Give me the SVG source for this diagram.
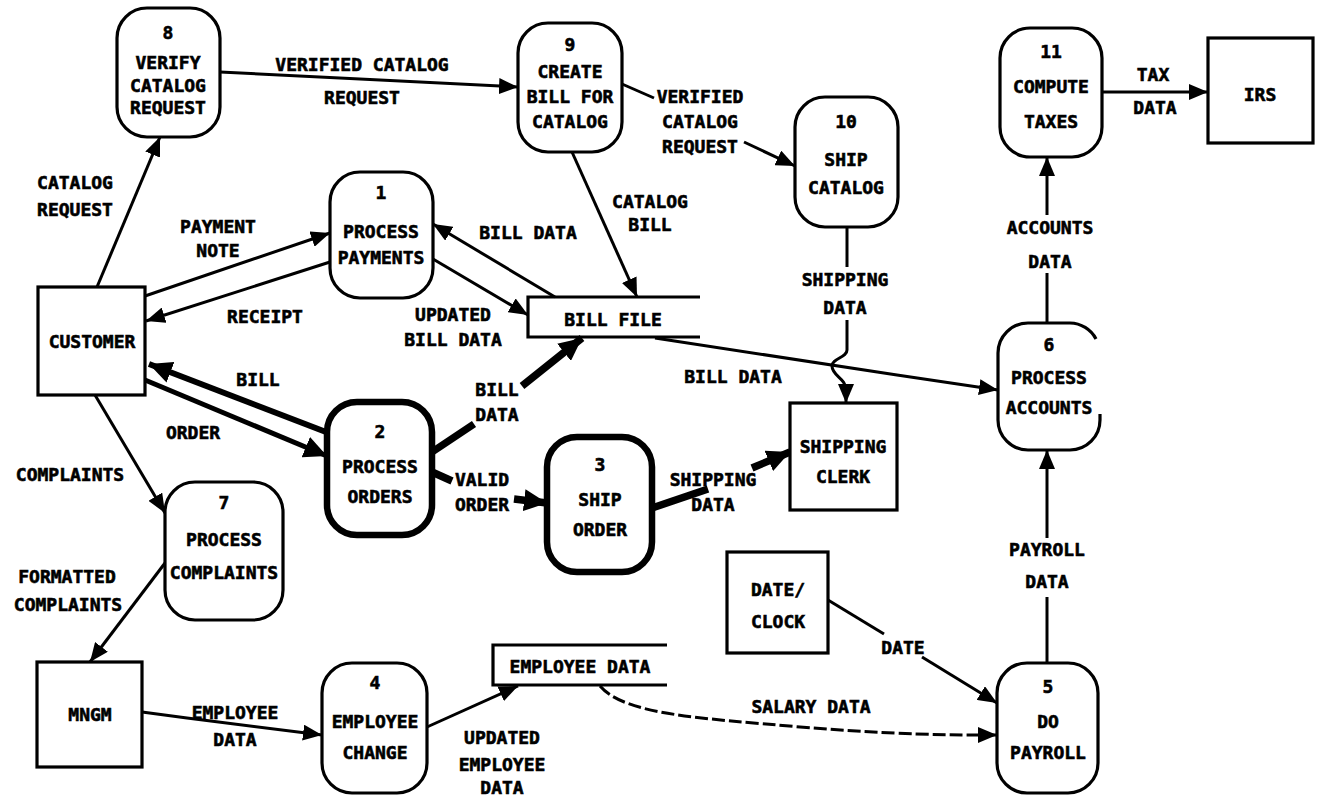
<svg xmlns="http://www.w3.org/2000/svg" width="1319" height="807" viewBox="0 0 1319 807">
<style>
  text{font-family:"DejaVu Sans Mono","Liberation Mono",monospace;font-weight:bold;font-size:18px;fill:#000;stroke:#000;stroke-width:0.6;text-anchor:middle}
  .proc{fill:#fff;stroke:#000;stroke-width:3.2}
  .thick{stroke-width:6.5}
  .ext{fill:#fff;stroke:#000;stroke-width:3.2}
  .store{fill:none;stroke:#000;stroke-width:3.2}
  .flow{fill:none;stroke:#000;stroke-width:3}
  .bold{stroke-width:7.5}
  .dash{stroke-dasharray:13 4}
</style>
<defs>
  <marker id="ah" markerUnits="userSpaceOnUse" markerWidth="19" markerHeight="16" refX="19" refY="8" orient="auto">
    <path d="M0,0 L19,8 L0,16 z" fill="#000"/>
  </marker>
  <marker id="ahb" markerUnits="userSpaceOnUse" markerWidth="23" markerHeight="22" refX="23" refY="11" orient="auto">
    <path d="M0,0 L23,11 L0,22 z" fill="#000"/>
  </marker>
</defs>
<rect width="1319" height="807" fill="#fff"/>

<g id="connectors">
  <path class="flow" d="M97,287 L160,137" marker-end="url(#ah)"/>
  <text x="75" y="189">CATALOG</text><text x="75" y="216">REQUEST</text>

  <path class="flow" d="M220,72 L380,80 L518,87" marker-end="url(#ah)"/>
  <text x="362" y="71">VERIFIED CATALOG</text><text x="362" y="104">REQUEST</text>

  <path class="flow" d="M622,84 L654,98"/>
  <path class="flow" d="M744,142 L795,166" marker-end="url(#ah)"/>
  <text x="700" y="103">VERIFIED</text><text x="700" y="128">CATALOG</text><text x="700" y="153">REQUEST</text>

  <path class="flow" d="M572,152 L637,297" marker-end="url(#ah)"/>
  <text x="650" y="208">CATALOG</text><text x="650" y="231">BILL</text>

  <path class="flow" d="M145,296 L330,233" marker-end="url(#ah)"/>
  <text x="218" y="233">PAYMENT</text><text x="218" y="257">NOTE</text>

  <path class="flow" d="M330,262 L146,321" marker-end="url(#ah)"/>
  <text x="265" y="323">RECEIPT</text>

  <path class="flow" d="M555,297 L433,224" marker-end="url(#ah)"/>
  <text x="528" y="239">BILL DATA</text>

  <path class="flow" d="M433,259 L528,315" marker-end="url(#ah)"/>
  <text x="453" y="321">UPDATED</text><text x="453" y="346">BILL DATA</text>

  <path class="flow" d="M326,432 L149,364" style="stroke-width:6" marker-end="url(#ahb)"/>
  <text x="258" y="386">BILL</text>

  <path class="flow" d="M145,380 L327,456" style="stroke-width:5" marker-end="url(#ahb)"/>
  <text x="193" y="439">ORDER</text>

  <path class="flow bold" d="M432,452 L474,424"/>
  <path class="flow bold" d="M522,386 L582,338" marker-end="url(#ahb)"/>
  <text x="497" y="396">BILL</text><text x="497" y="421">DATA</text>

  <path class="flow bold" d="M432,472 L452,481"/>
  <path class="flow bold" d="M514,499 L547,503" marker-end="url(#ahb)"/>
  <text x="482" y="486">VALID</text><text x="482" y="511">ORDER</text>

  <path class="flow bold" d="M652,508 L708,489"/>
  <path class="flow bold" d="M752,468 L790,452" marker-end="url(#ahb)"/>
  <text x="713" y="486">SHIPPING</text><text x="713" y="511">DATA</text>

  <path class="flow" d="M655,338 L897,375 L998,390" marker-end="url(#ah)"/>
  <text x="733" y="383">BILL DATA</text>

  <path class="flow" d="M847,227 L847,267"/>
  <path class="flow" d="M847,320 L847,350 C847,358 832,358 832,366 C832,376 846,378 846,390 L846,403" marker-end="url(#ah)"/>
  <text x="845" y="286">SHIPPING</text><text x="845" y="314">DATA</text>

  <path class="flow" d="M1047,323 L1047,273"/>
  <path class="flow" d="M1047,215 L1047,157" marker-end="url(#ah)"/>
  <text x="1050" y="234">ACCOUNTS</text><text x="1050" y="268">DATA</text>

  <path class="flow" d="M1102,92 L1208,92" marker-end="url(#ah)"/>
  <text x="1153" y="81">TAX</text><text x="1155" y="114">DATA</text>

  <path class="flow" d="M1047,663 L1047,597"/>
  <path class="flow" d="M1047,538 L1047,450" marker-end="url(#ah)"/>
  <text x="1047" y="556">PAYROLL</text><text x="1047" y="588">DATA</text>

  <path class="flow" d="M828,600 L884,634"/>
  <path class="flow" d="M922,657 L997,703" marker-end="url(#ah)"/>
  <text x="903" y="654">DATE</text>

  <path class="flow dash" d="M600,686 C625,715 700,718 800,727 C900,735 950,735 997,735" marker-end="url(#ah)"/>
  <text x="811" y="713">SALARY DATA</text>

  <path class="flow" d="M142,712 L187,718 L322,735" marker-end="url(#ah)"/>
  <text x="235" y="719">EMPLOYEE</text><text x="235" y="746">DATA</text>

  <path class="flow" d="M427,727 L518,686" marker-end="url(#ah)"/>
  <text x="502" y="744">UPDATED</text><text x="502" y="771">EMPLOYEE</text><text x="502" y="794">DATA</text>

  <path class="flow" d="M95,395 L165,513" marker-end="url(#ah)"/>
  <text x="70" y="481">COMPLAINTS</text>

  <path class="flow" d="M165,563 L90,662" marker-end="url(#ah)"/>
  <text x="67" y="583">FORMATTED</text><text x="68" y="611">COMPLAINTS</text>
</g>

<g id="node8"><rect class="proc" x="117" y="8" width="103" height="129" rx="30"/>
  <text x="168" y="39">8</text><text x="168" y="69">VERIFY</text><text x="168" y="92">CATALOG</text><text x="168" y="114">REQUEST</text></g>
<g id="node9"><rect class="proc" x="518" y="23" width="104" height="129" rx="30"/>
  <text x="570" y="51">9</text><text x="570" y="78">CREATE</text><text x="570" y="103">BILL FOR</text><text x="570" y="128">CATALOG</text></g>
<g id="node10"><rect class="proc" x="795" y="97" width="103" height="130" rx="30"/>
  <text x="846" y="128">10</text><text x="846" y="166">SHIP</text><text x="846" y="194">CATALOG</text></g>
<g id="node11"><rect class="proc" x="1000" y="28" width="102" height="129" rx="30"/>
  <text x="1051" y="58">11</text><text x="1051" y="93">COMPUTE</text><text x="1051" y="128">TAXES</text></g>
<g id="irs"><rect class="ext" x="1208" y="38" width="105" height="105"/>
  <text x="1260" y="101">IRS</text></g>
<g id="node1"><rect class="proc" x="330" y="172" width="103" height="126" rx="30"/>
  <text x="381" y="199">1</text><text x="381" y="238">PROCESS</text><text x="381" y="264">PAYMENTS</text></g>
<g id="billfile"><path class="store" d="M700,297 L528,297 L528,337 L700,337"/>
  <text x="613" y="326">BILL FILE</text></g>
<g id="customer"><rect class="ext thick" x="38" y="287" width="107" height="108"/>
  <text x="92" y="348">CUSTOMER</text></g>
<g id="node2"><rect class="proc thick" x="327" y="402" width="105" height="133" rx="30"/>
  <text x="380" y="438">2</text><text x="380" y="473">PROCESS</text><text x="380" y="503">ORDERS</text></g>
<g id="node3"><rect class="proc thick" x="547" y="437" width="105" height="135" rx="30"/>
  <text x="600" y="471">3</text><text x="600" y="506">SHIP</text><text x="600" y="536">ORDER</text></g>
<g id="shippingclerk"><rect class="ext thick" x="790" y="403" width="107" height="107"/>
  <text x="843" y="453">SHIPPING</text><text x="843" y="483">CLERK</text></g>
<g id="node6"><path class="proc" d="M1096,339 A30,30 0 0 0 1070,323 L1028,323 A30,30 0 0 0 998,353 L998,420 A30,30 0 0 0 1028,450 L1070,450 A30,30 0 0 0 1100,420 L1100,414"/>
  <text x="1049" y="351">6</text><text x="1049" y="384">PROCESS</text><text x="1049" y="414">ACCOUNTS</text></g>
<g id="node5"><rect class="proc" x="997" y="663" width="101" height="130" rx="30"/>
  <text x="1048" y="693">5</text><text x="1048" y="728">DO</text><text x="1048" y="759">PAYROLL</text></g>
<g id="dateclock"><rect class="ext" x="727" y="552" width="101" height="101"/>
  <text x="778" y="596">DATE/</text><text x="778" y="628">CLOCK</text></g>
<g id="employeedata"><path class="store" d="M667,645 L493,645 L493,685 L667,685"/>
  <text x="580" y="673">EMPLOYEE DATA</text></g>
<g id="node4"><rect class="proc" x="322" y="663" width="105" height="130" rx="30"/>
  <text x="375" y="689">4</text><text x="375" y="728">EMPLOYEE</text><text x="375" y="759">CHANGE</text></g>
<g id="mngm"><rect class="ext" x="37" y="662" width="105" height="105"/>
  <text x="90" y="721">MNGM</text></g>
<g id="node7"><rect class="proc" x="165" y="482" width="118" height="138" rx="30"/>
  <text x="224" y="509">7</text><text x="224" y="546">PROCESS</text><text x="224" y="579">COMPLAINTS</text></g>
</svg>
